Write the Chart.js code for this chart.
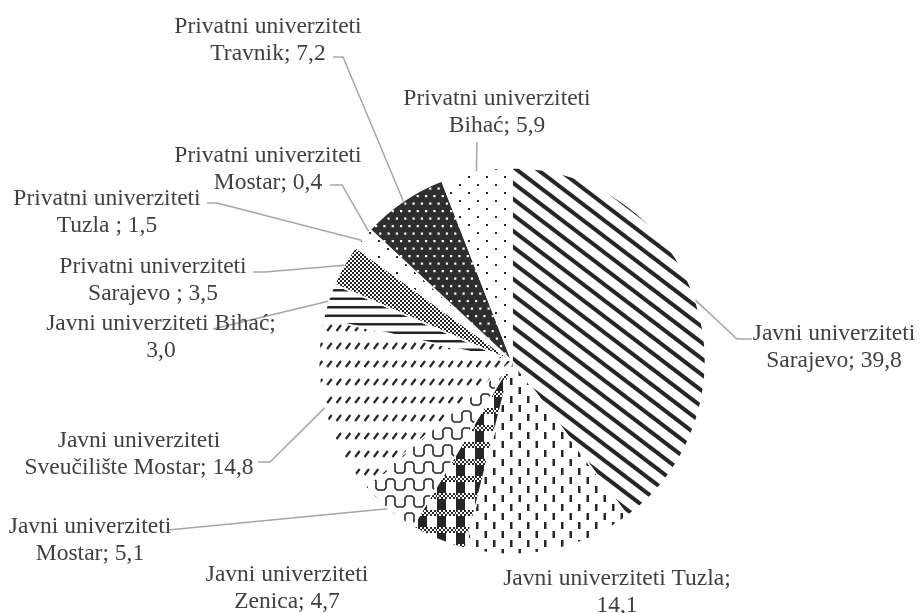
<!DOCTYPE html>
<html>
<head>
<meta charset="utf-8">
<script src="https://cdn.jsdelivr.net/npm/chart.js@4.4.1/dist/chart.umd.min.js"></script>
<style>
  html, body { margin: 0; padding: 0; background: #fff; }
</style>
</head>
<body>
<canvas id="pie" width="921" height="613"></canvas>
<script>
(function () {
  'use strict';

  // Udio po univerzitetima (%), redom kako se crtaju u smjeru kazaljke
  const categories = [
    'Javni univerziteti Sarajevo', 'Javni univerziteti Tuzla', 'Javni univerziteti Zenica',
    'Javni univerziteti Mostar', 'Javni univerziteti Sveučilište Mostar', 'Javni univerziteti Bihać',
    'Privatni univerziteti Sarajevo', 'Privatni univerziteti Tuzla', 'Privatni univerziteti Mostar',
    'Privatni univerziteti Travnik', 'Privatni univerziteti Bihać'
  ];
  const shares = [39.8, 14.1, 4.7, 5.1, 14.8, 3.0, 3.5, 1.5, 0.4, 7.2, 5.9];

  // tekst oznaka, {v} se mijenja vrijednošću
  const labelLines = [
    ['Javni univerziteti', 'Sarajevo; {v}'],
    ['Javni univerziteti Tuzla;', '{v}'],
    ['Javni univerziteti', 'Zenica; {v}'],
    ['Javni univerziteti', 'Mostar; {v}'],
    ['Javni univerziteti', 'Sveučilište Mostar; {v}'],
    ['Javni univerziteti Bihać;', '{v}'],
    ['Privatni univerziteti', 'Sarajevo ; {v}'],
    ['Privatni univerziteti', 'Tuzla ; {v}'],
    ['Privatni univerziteti', 'Mostar; {v}'],
    ['Privatni univerziteti', 'Travnik; {v}'],
    ['Privatni univerziteti', 'Bihać; {v}']
  ];

  // gdje stoji koji natpis (centar, prva bazna linija) i kako ide linija do isječka
  const labelLayout = [
    { x: 834, y: 340, leader: [[752, 339], [737, 339]] },
    { x: 617, y: 585, leader: null },
    { x: 287, y: 581, leader: null },
    { x: 90,  y: 533, leader: [[168, 530]] },
    { x: 139, y: 447, leader: [[258, 462], [270, 462]] },
    { x: 161, y: 330, leader: [[213, 329]] },
    { x: 153, y: 273, leader: [[253, 272], [265, 272]] },
    { x: 107, y: 205, leader: [[207, 203], [217, 203]] },
    { x: 268, y: 162, leader: [[330, 185], [342, 185]] },
    { x: 268, y: 33,  leader: [[333, 57], [343, 57]] },
    { x: 497, y: 105, leader: [[477, 142]] }
  ];

  const INK = '#262626';
  const TEXT = '#404040';
  const LEADER = '#a6a6a6';
  const LINE_H = 27;

  const canvas = document.getElementById('pie');
  const mainCtx = canvas.getContext('2d');

  function fmt(v) { return v.toFixed(1).replace('.', ','); }

  function tile(w, h, draw) {
    const c = document.createElement('canvas');
    c.width = w; c.height = h;
    const g = c.getContext('2d');
    g.fillStyle = '#fff';
    g.fillRect(0, 0, w, h);
    g.fillStyle = INK;
    g.strokeStyle = INK;
    draw(g, w, h);
    return mainCtx.createPattern(c, 'repeat');
  }

  const patterns = [
    // široke dijagonalne pruge
    tile(21, 16, (g, w, h) => {
      g.lineWidth = 4.1;
      for (let k = -1; k <= 1; k++) {
        g.beginPath();
        g.moveTo(k * w - w, -h);
        g.lineTo(k * w + 2 * w, 2 * h);
        g.stroke();
      }
    }),
    // isprekidane vertikale
    tile(17, 18, (g) => {
      g.fillRect(0, 0, 2.5, 7);
      g.fillRect(8.5, 9, 2.5, 7);
    }),
    // karo
    tile(19, 17, (g) => {
      g.fillRect(0, 6, 9, 11);
      for (let x = 0; x < 19; x += 2) {
        for (let y = 0; y < 6; y += 2) {
          if (((x + y) / 2) % 2 === 0) g.fillRect(x, y, 2, 2);
        }
      }
    }),
    // valovi
    tile(19, 17, (g) => {
      g.lineWidth = 1.6;
      g.beginPath();
      g.moveTo(0, 14); g.lineTo(4, 14); g.lineTo(6, 12); g.lineTo(6, 5); g.lineTo(8, 3);
      g.lineTo(13, 3); g.lineTo(15, 5); g.lineTo(15, 12); g.lineTo(17, 14); g.lineTo(19, 14);
      g.stroke();
    }),
    // isprekidane kose crtice
    tile(28, 18, (g) => {
      g.lineWidth = 2.2;
      for (let i = 0; i < 3; i++) {
        const x0 = i * 28 / 3;
        g.beginPath();
        g.moveTo(x0 + 0.5, 7);
        g.lineTo(x0 + 5, 1);
        g.stroke();
      }
    }),
    // horizontalne linije
    tile(4, 17, (g) => {
      g.fillRect(0, 0, 4, 2.5);
      g.fillRect(0, 8.5, 4, 2.5);
    }),
    // sitna mreža
    tile(4, 4, (g) => {
      g.fillRect(0, 0, 2, 2);
      g.fillRect(2, 2, 2, 2);
    }),
    // rijetke tačke
    tile(18, 16, (g) => {
      g.fillRect(0, 0, 2, 2);
    }),
    tile(18, 16, (g) => {
      g.fillRect(0, 0, 2, 2);
      g.fillRect(9, 8, 2, 2);
    }),
    // tamno s bijelim tačkama
    tile(25, 15, (g) => {
      g.fillStyle = '#2e2e2e';
      g.fillRect(0, 0, 25, 15);
      g.fillStyle = '#fff';
      for (let i = 0; i < 3; i++) {
        g.fillRect(i * 25 / 3, 0, 2.2, 2.2);
        g.fillRect(i * 25 / 3 + 25 / 6, 7.5, 2.2, 2.2);
      }
    }),
    tile(18, 16, (g) => {
      g.fillRect(0, 0, 2, 2);
      g.fillRect(9, 8, 2, 2);
    })
  ];

  const calloutPlugin = {
    id: 'calloutPlugin',
    afterDatasetsDraw(chart) {
      const { ctx } = chart;
      const meta = chart.getDatasetMeta(0);
      ctx.save();

      // linije od natpisa do ruba isječka
      ctx.strokeStyle = LEADER;
      ctx.lineWidth = 1.5;
      meta.data.forEach((arc, i) => {
        const lay = labelLayout[i];
        if (!lay.leader) return;
        const mid = (arc.startAngle + arc.endAngle) / 2;
        const ax = arc.x + Math.cos(mid) * arc.outerRadius;
        const ay = arc.y + Math.sin(mid) * arc.outerRadius;
        ctx.beginPath();
        lay.leader.forEach(([px, py], k) => k ? ctx.lineTo(px, py) : ctx.moveTo(px, py));
        ctx.lineTo(ax, ay);
        ctx.stroke();
      });

      ctx.fillStyle = TEXT;
      ctx.font = '23.5px "Liberation Serif", "Times New Roman", serif';
      ctx.textAlign = 'center';
      ctx.textBaseline = 'alphabetic';
      labelLines.forEach((lines, i) => {
        const lay = labelLayout[i];
        lines.forEach((t, k) => {
          ctx.fillText(t.replace('{v}', fmt(shares[i])), lay.x, lay.y + k * LINE_H);
        });
      });
      ctx.restore();
    }
  };

  new Chart(canvas, {
    type: 'pie',
    data: {
      labels: categories,
      datasets: [{
        data: shares,
        backgroundColor: patterns,
        borderColor: '#ffffff',
        borderWidth: 1.5
      }]
    },
    options: {
      responsive: false,
      animation: false,
      layout: { padding: { left: 318, right: 215, top: 167, bottom: 58 } },
      plugins: {
        legend: { display: false },
        tooltip: { enabled: false }
      }
    },
    plugins: [calloutPlugin]
  });
})();
</script>
</body>
</html>
